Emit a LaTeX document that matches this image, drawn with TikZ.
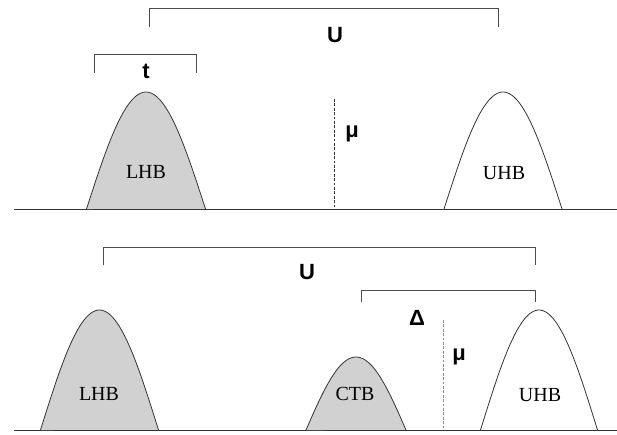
\documentclass[tikz,border=0pt]{standalone}
\usepackage{fontspec}
\setmainfont{Liberation Serif}
\newfontfamily\labfont{Liberation Sans}
\begin{document}
\begin{tikzpicture}[x=1pt,y=-1pt,
  band/.style={draw=black!80, line width=0.8pt},
  filled/.style={band, fill=black!18},
  bracket/.style={draw=black!70, line width=1pt},
  axis/.style={draw=black!80, line width=1pt},
  fermi/.style={draw=black!80, line width=0.9pt, dash pattern=on 2.7pt off 1.7pt},
  bandlab/.style={font=\fontsize{20}{20}\selectfont, inner sep=0pt},
  symlab/.style={font=\labfont\bfseries\fontsize{22}{22}\selectfont, inner sep=0pt}]
\useasboundingbox (0,0) rectangle (617,434);
% ---------- top panel ----------
\draw[axis] (14,209) -- (617,209);
\draw[filled] plot[domain=-1:1,samples=60] ({146+59.5*\x},{209-117*cos(90*\x)});
\draw[band] plot[domain=-1:1,samples=60] ({503+59*\x},{209-117*cos(90*\x)});
\node[bandlab] (lhb1) at (146,172) {LHB};
\node[bandlab] (uhb1) at (504,173) {UHB};
\coordinate (u1a) at (149,27); \coordinate (u1b) at (498,27);
\draw[bracket] (u1a) -- ++(0,-19) -| (u1b);
\node[symlab] (U1) at (335,35) {U};
\coordinate (t1a) at (94,73); \coordinate (t1b) at (196,73);
\draw[bracket] (t1a) -- ++(0,-19) -| (t1b);
\node[symlab] (t1) at (146,71) {t};
\coordinate (mu1a) at (334,99); \coordinate (mu1b) at (334,209);
\draw[fermi] (mu1a) -- (mu1b);
\node[symlab] (mu1) at (352,134) {μ};
% ---------- bottom panel ----------
\draw[axis] (14,430) -- (617,430);
\draw[filled] plot[domain=-1:1,samples=60] ({99.5+59*\x},{430-120*cos(90*\x)});
\draw[filled] plot[domain=-1:1,samples=60] ({356+50*\x},{430-73*cos(90*\x)});
\draw[band] plot[domain=-1:1,samples=60] ({539+58.5*\x},{430-120*cos(90*\x)});
\node[bandlab] (lhb2) at (99,394) {LHB};
\node[bandlab] (ctb2) at (355,394) {CTB};
\node[bandlab] (uhb2) at (540,395) {UHB};
\coordinate (u2a) at (103,265); \coordinate (u2b) at (535,265);
\draw[bracket] (u2a) -- ++(0,-18) -| (u2b);
\node[symlab] (U2) at (307,272) {U};
\coordinate (d2a) at (361,302); \coordinate (d2b) at (535,302);
\draw[bracket] (d2a) -- ++(0,-11.5) -| (d2b);
\node[symlab] (D2) at (417,318) {Δ};
\coordinate (mu2a) at (443,320); \coordinate (mu2b) at (443,430);
\draw[fermi, draw=black!45] (mu2a) -- (mu2b);
\node[symlab] (mu2) at (459,357) {μ};
\end{tikzpicture}
\end{document}
